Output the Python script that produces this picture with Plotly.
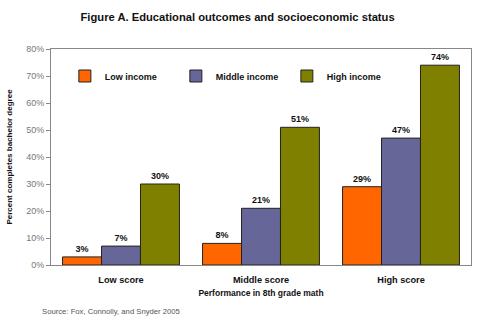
import plotly.graph_objects as go

categories = ["Low score", "Middle score", "High score"]
series_names = ["Low income", "Middle income", "High income"]
low_income = [3, 8, 29]
middle_income = [7, 21, 47]
high_income = [30, 51, 74]
colors = ["#FF6600", "#666699", "#808000"]
y_ticks = [0, 10, 20, 30, 40, 50, 60, 70, 80]
y_tick_labels = [f"{v}%" for v in y_ticks]

fig = go.Figure()
for name, vals, col in zip(series_names, [low_income, middle_income, high_income], colors):
    fig.add_trace(go.Bar(
        x=categories, y=vals, name=name,
        marker=dict(color=col, line=dict(color="#222222", width=1)),
        text=[f"{v}%" for v in vals], textposition="outside",
        textfont=dict(family="Arial", size=9, color="#111111", weight="bold"),
        cliponaxis=False,
    ))

fig.update_layout(
    width=480, height=324,
    margin=dict(l=51, r=9, t=49, b=59),
    paper_bgcolor="white", plot_bgcolor="white",
    barmode="group", bargap=0.165, bargroupgap=0,
    font=dict(family="Arial", color="#111111"),
    title=dict(text="<b>Figure A. Educational outcomes and socioeconomic status</b>",
               x=0.495, xanchor="center", y=0.947, yanchor="middle",
               font=dict(family="Arial", size=11.2, color="#111111")),
    showlegend=True,
    legend=dict(orientation="h", x=0.033, y=0.875, xanchor="left", yanchor="middle",
                font=dict(family="Arial", size=9, color="#111111", weight="bold"),
                bgcolor="rgba(0,0,0,0)", entrywidth=66, itemwidth=30),
    xaxis=dict(showline=True, linecolor="#888888", linewidth=1, mirror=True,
               ticks="", ticklabelstandoff=6,
               tickfont=dict(family="Arial", size=9.2, color="#111111", weight="bold"),
               title=dict(text="<b>Performance in 8th grade math</b>", standoff=6,
                          font=dict(family="Arial", size=8.5, color="#111111"))),
    yaxis=dict(range=[0, 80], tickvals=y_ticks, ticktext=y_tick_labels,
               showline=True, linecolor="#888888", linewidth=1, mirror=True,
               ticks="outside", ticklen=4, tickcolor="#888888",
               showgrid=False, zeroline=False,
               tickfont=dict(family="Arial", size=9, color="#777777"),
               title=dict(text="<b>Percent completes bachelor degree</b>", standoff=12,
                          font=dict(family="Arial", size=8, color="#111111"))),
)

fig.add_annotation(text="Source: Fox, Connolly, and Snyder 2005", xref="paper", yref="paper",
                   x=-0.026, y=-0.215, xanchor="left", yanchor="middle", showarrow=False,
                   font=dict(family="Arial", size=7.7, color="#555555"))

fig.write_html("out.html")
